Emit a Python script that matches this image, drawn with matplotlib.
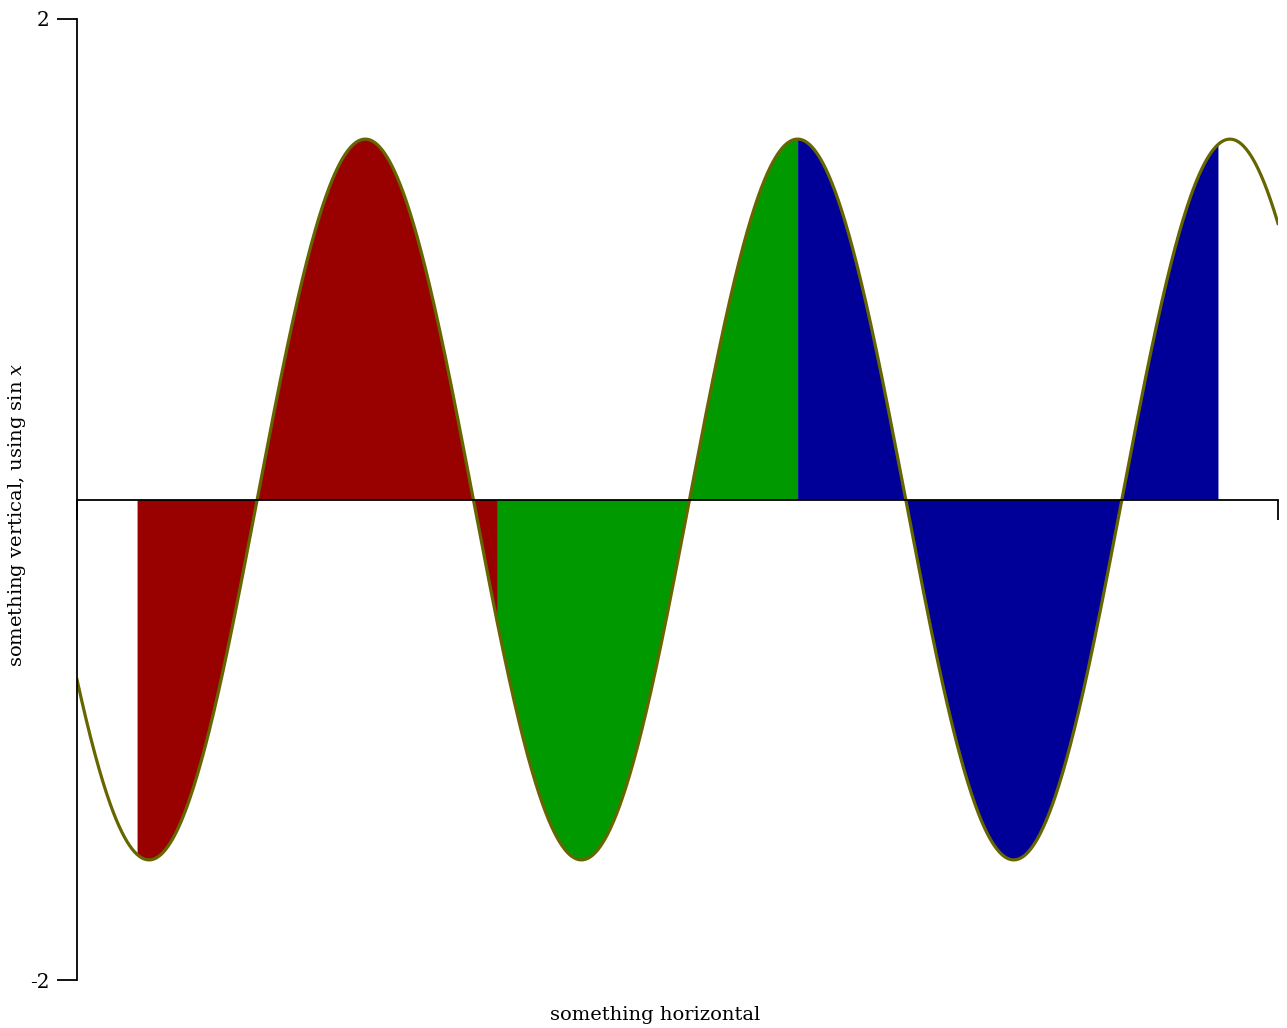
import numpy as np
import matplotlib
matplotlib.use("Agg")
import matplotlib.pyplot as plt

# ---- data ----
x_domain = [-150, 850]          # degrees
y_domain = [-2, 2]
amplitude = 1.5
fill_breaks = [-100, 200, 450, 800]
fill_colors = ["#990000", "#009900", "#000099"]
y_ticks = [-2, 2]
y_tick_labels = ["-2", "2"]
x_ticks = [-150, 850]
line_color = "#666600"

plt.rcParams["font.family"] = ["DejaVu Serif"]
plt.rcParams["mathtext.fontset"] = "dejavuserif"

W, H = 1287, 1028
fig = plt.figure(figsize=(W / 100, H / 100), dpi=100)
ax = fig.add_axes([77 / W, 1 - 980 / H, (1278 - 77) / W, (980 - 19) / H])

def f(x):
    return amplitude * np.sin(np.deg2rad(x))

for i, c in enumerate(fill_colors):
    xs = np.linspace(fill_breaks[i], fill_breaks[i + 1], 400)
    ax.fill_between(xs, 0, f(xs), color=c, linewidth=0, zorder=1)

xs = np.linspace(x_domain[0], x_domain[1], 2000)
ax.plot(xs, f(xs), color=line_color, linewidth=2.3, zorder=2)

ax.set_xlim(*x_domain)
ax.set_ylim(*y_domain)

for s in ["top", "right"]:
    ax.spines[s].set_visible(False)
ax.spines["bottom"].set_position(("data", 0))
ax.spines["bottom"].set_linewidth(1.3)
ax.spines["left"].set_linewidth(1.3)
ax.spines["bottom"].set_zorder(3)

ax.set_yticks(y_ticks)
ax.set_yticklabels(y_tick_labels)
ax.set_xticks(x_ticks)
ax.set_xticklabels(["", ""])
ax.tick_params(axis="both", direction="out", length=14.5, width=1.3, labelsize=14.5, pad=5)

fig.text(655 / W, 1 - 1015 / H, "something horizontal", ha="center", va="center", fontsize=14)
fig.text(17 / W, 1 - 515 / H, "something vertical, using sin $\\mathit{x}$", ha="center", va="center",
         rotation=90, fontsize=14)

fig.savefig("out.png", dpi=100)
